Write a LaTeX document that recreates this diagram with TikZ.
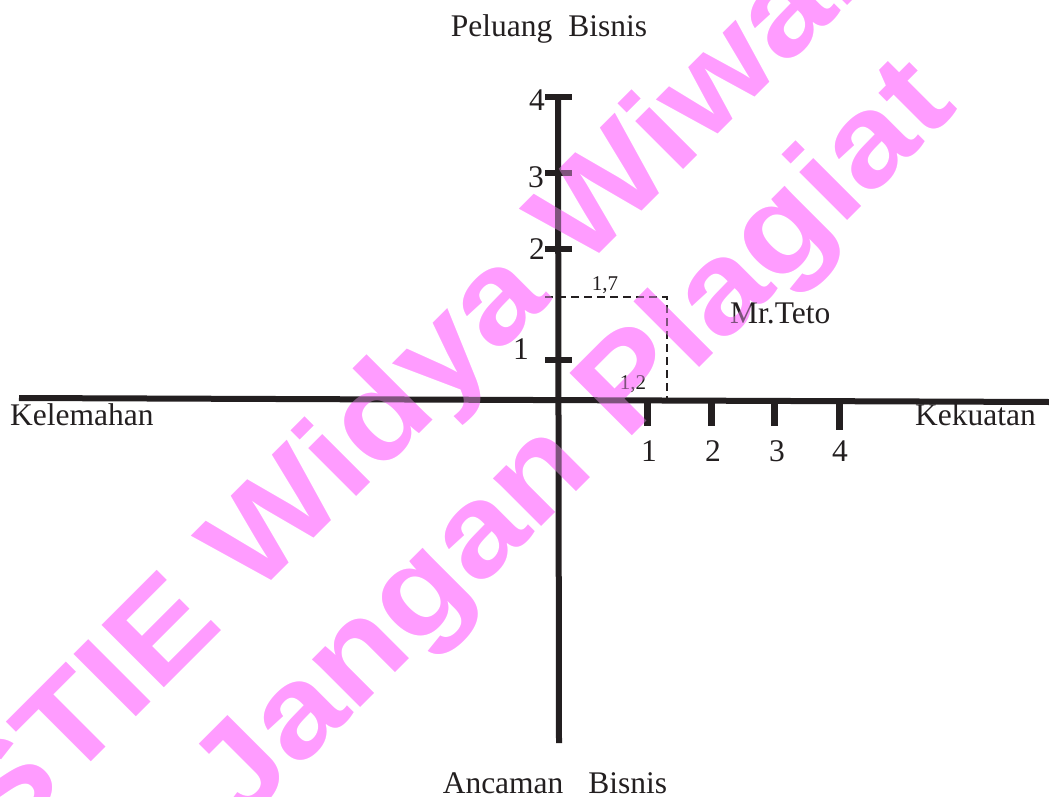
\documentclass[tikz,border=0pt]{standalone}
\usepackage{fontspec}
\setmainfont{Liberation Serif}
\newfontfamily\wmfont{Liberation Sans}
\definecolor{ink}{RGB}{35,31,32}
\definecolor{wm}{RGB}{255,156,255}
\begin{document}
\begin{tikzpicture}[x=1pt,y=-1pt,
  lab/.style={inner sep=0pt, font=\fontsize{31.5}{36}\selectfont, text=ink, anchor=base},
  lableft/.style={lab, anchor=base west},
  small/.style={inner sep=0pt, font=\fontsize{21}{25}\selectfont, text=ink, anchor=base},
  axisline/.style={draw=ink, line width=6pt},
  tickline/.style={draw=ink, line width=6pt},
  xtickline/.style={draw=ink, line width=7pt},
  guide/.style={draw=ink, line width=1.8pt, dash pattern=on 8pt off 5pt},
  wmtext/.style={inner sep=0pt, anchor=base, rotate=45, text=wm,
    font=\wmfont\bfseries\fontsize{128}{150}\selectfont},
  wmtint/.style={wmtext, text opacity=0.42}]
\path[use as bounding box] (0,0) rectangle (1049,797);

% watermark underneath
\node[wmtext] (wm1) at (479.4,373.4) {\scalebox{1.125}[1]{STIE Widya Wiwaha}};
\node[wmtext] (wm2) at (599.7,468.1) {\scalebox{1.125}[1]{Jangan Plagiat}};

% axes
\coordinate (xl) at (19,398);
\coordinate (xr) at (1049,402);
\coordinate (yt) at (558,97);
\coordinate (yb) at (559,743);
\draw[axisline] (xl) -- (xr);
\draw[axisline] (yt) -- (yb);

% y ticks
\foreach \n/\y in {4/97,3/173,2/249,1/360}{
  \coordinate (yt\n a) at (545,\y);
  \coordinate (yt\n b) at (572,\y);
  \draw[tickline] (yt\n a) -- (yt\n b);
}
% x ticks
\foreach \n/\x/\e in {1/647/426,2/711/426,3/774/426,4/839/430}{
  \coordinate (xt\n a) at (\x,401);
  \coordinate (xt\n b) at (\x,\e);
  \draw[xtickline] (xt\n a) -- (xt\n b);
}

% dashed guide
\coordinate (g1) at (545,297);
\coordinate (g2) at (667,297);
\coordinate (g3) at (667,399);
\draw[guide] (g1) -- (g2) -- (g3);

% labels
\node[lab] (peluang) at (549,37) {Peluang\hspace{16pt}Bisnis};
\node[lab] (ancaman) at (555,793) {Ancaman\hspace{25pt}Bisnis};
\node[lableft] (kelemahan) at (10,425) {Kelemahan};
\node[lableft] (kekuatan) at (915,425) {Kekuatan};
\node[lableft] (teto) at (730,323) {Mr.Teto};

\node[lab] (x1) at (649,461) {1};
\node[lab] (x2) at (713,461) {2};
\node[lab] (x3) at (777,461) {3};
\node[lab] (x4) at (840,461) {4};

\node[lab] (y4) at (537,111) {4};
\node[lab] (y3) at (536,187) {3};
\node[lab] (y2) at (537,259) {2};
\node[lab] (y1) at (521,359) {1};

\node[small] (v17) at (605,290) {1,7};
\node[small] (v12) at (633,389) {1,2};

% watermark tint over the drawing
\node[wmtint] (wm1o) at (479.4,373.4) {\scalebox{1.125}[1]{STIE Widya Wiwaha}};
\node[wmtint] (wm2o) at (599.7,468.1) {\scalebox{1.125}[1]{Jangan Plagiat}};
\end{tikzpicture}
\end{document}
